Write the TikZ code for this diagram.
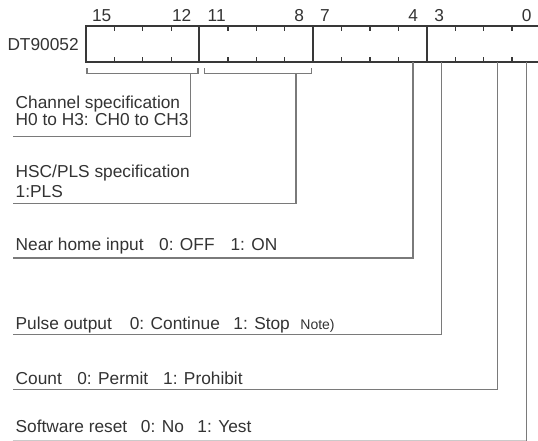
\documentclass[tikz,border=0pt]{standalone}
\usepackage{fontspec}
\setmainfont{Liberation Sans}
\definecolor{txt}{HTML}{333333}
\definecolor{boxc}{HTML}{383838}
\definecolor{conn}{HTML}{7A7A7A}
\begin{document}
\begin{tikzpicture}[x=1pt,y=-1pt,
  lbl/.style={inner sep=0pt,anchor=base west,text=txt,font=\fontsize{17.3}{20}\selectfont},
  num/.style={inner sep=0pt,anchor=base,text=txt,font=\fontsize{17.3}{20}\selectfont},
  regbox/.style={draw=boxc,line width=1.7pt},
  tickln/.style={draw=boxc,line width=1.1pt},
  conline/.style={draw=conn,line width=1.3pt},
  brk/.style={draw=conn,line width=1.2pt}]
\newcommand{\notefont}{\fontsize{14}{16}\selectfont}
\useasboundingbox (0,0) rectangle (538,441);
\fill[white] (0,0) rectangle (538,441);
% register box
\draw[regbox] (86,26) rectangle (540,62);
\foreach \xx in {199.3,313.3,426.7} \draw[regbox] (\xx,26) -- (\xx,62);
\foreach \k in {1,2,3,5,6,7,9,10,11,13,14,15} {
  \draw[tickln] ({86+\k*28.4},26) -- ({86+\k*28.4},31);
  \draw[tickln] ({86+\k*28.4},62) -- ({86+\k*28.4},57.5);
}
\node[lbl] (dt) at (7.3,50.7) {DT90052};
\node[num] (b15) at (101.7,21.7) {15};
\node[num] (b12) at (181.7,21.7) {12};
\node[num] (b11) at (216.7,21.7) {11};
\node[num] (b8) at (299.3,21.7) {8};
\node[num] (b7) at (325,21.7) {7};
\node[num] (b4) at (413.3,21.7) {4};
\node[num] (b3) at (439.3,21.7) {3};
\node[num] (b0) at (526.7,21.7) {0};
% brackets
\draw[brk] (87,68.5) -- (87,73.5) -- (198,73.5) -- (198,68.5);
\draw[brk] (204.3,68.5) -- (204.3,73.5) -- (311.7,73.5) -- (311.7,68.5);
% connector coordinates
\coordinate (c1t) at (190.7,73.5);
\coordinate (c1b) at (190.7,136.7);
\coordinate (c1e) at (12.7,136.7);
\coordinate (c2t) at (296,73.5);
\coordinate (c2b) at (296,203.5);
\coordinate (c2e) at (12.7,203.5);
\coordinate (c3t) at (413,62);
\coordinate (c3b) at (413,258);
\coordinate (c3e) at (12.7,258);
\coordinate (c4t) at (441.5,62);
\coordinate (c4b) at (441.5,334.3);
\coordinate (c4e) at (12.7,334.3);
\coordinate (c5t) at (497.5,62);
\coordinate (c5b) at (497.5,389.3);
\coordinate (c5e) at (12.7,389.3);
\coordinate (c6t) at (526.3,62);
\coordinate (c6b) at (526.3,441);
\coordinate (c6e) at (12.7,440.6);
\draw[conline] (c1t) -- (c1b) -- (c1e);
\draw[conline] (c2t) -- (c2b) -- (c2e);
\draw[conline] (c3t) -- (c3b) -- (c3e);
\draw[conline] (c4t) -- (c4b) -- (c4e);
\draw[conline] (c5t) -- (c5b) -- (c5e);
\draw[conline] (c6t) -- (c6b);
\draw[draw=conn!40,line width=1.3pt] (c6e) -- (c6e -| c6t);
% labels
\node[lbl] (ch1) at (15.5,108.7) {Channel specification};
\node[lbl] (ch2) at (15.5,125.3) {H0 to H3: CH0 to CH3};
\node[lbl] (hs1) at (15.5,177.3) {HSC/PLS specification};
\node[lbl] (hs2) at (15.5,197.3) {1:PLS};
\node[lbl] (nh) at (15.5,250.7) {Near home input\hspace{15.6pt}0: OFF\hspace{16pt}1: ON};
\node[lbl] (po) at (15.5,329.3) {Pulse output\hspace{18pt}0: Continue\hspace{13.5pt}1: Stop\hspace{10.5pt}{\notefont Note)}};
\node[lbl] (co) at (15.5,384) {Count\hspace{15.5pt}0: Permit\hspace{15pt}1: Prohibit};
\node[lbl] (sr) at (15.5,432.7) {Software reset\hspace{13.7pt}0: No\hspace{13.6pt}1: Yest};
\end{tikzpicture}
\end{document}
